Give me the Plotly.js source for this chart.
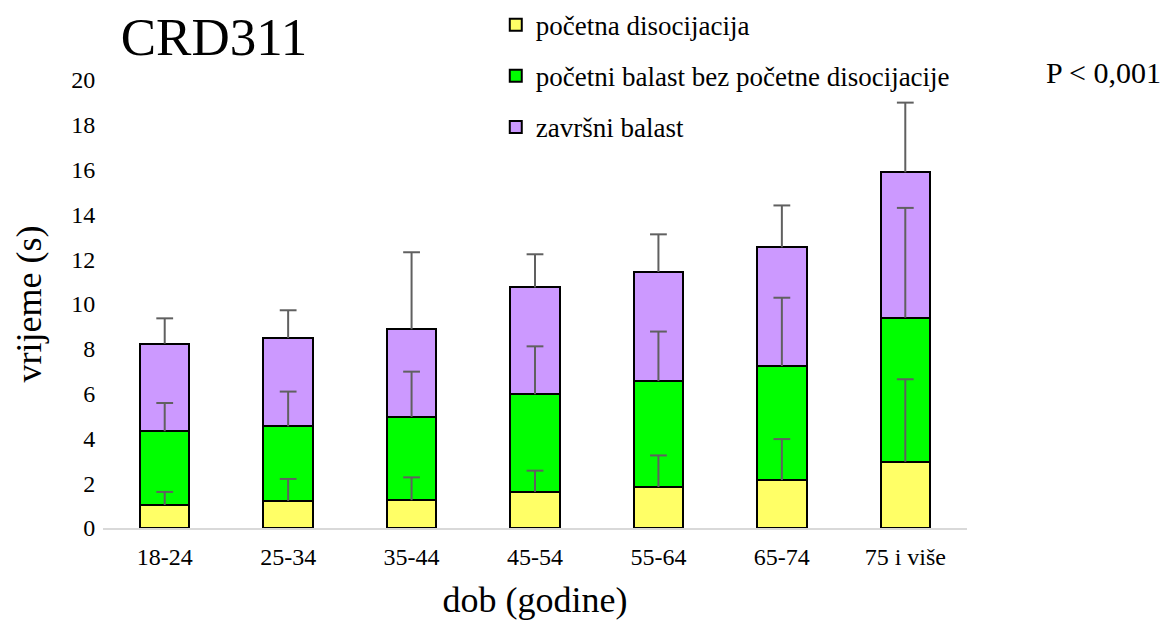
<!DOCTYPE html>
<html>
<head>
<meta charset="utf-8">
<script src="https://cdn.plot.ly/plotly-3.0.1.min.js"></script>
<style>html,body{margin:0;padding:0;background:#fff;}#chart{width:1168px;height:623px;}</style>
</head>
<body>
<div id="chart"></div>
<script>
const categories = ['18-24', '25-34', '35-44', '45-54', '55-64', '65-74', '75 i više'];
const seriesNames = ['početna disocijacija', 'početni balast bez početne disocijacije', 'završni balast'];
const pocetnaDisocijacija = [1.03, 1.21, 1.24, 1.62, 1.83, 2.14, 2.96];
const pocetniBalast = [3.29, 3.33, 3.72, 4.35, 4.73, 5.09, 6.43];
const zavrsniBalast = [3.91, 3.94, 3.91, 4.77, 4.87, 5.30, 6.49];
const errPocetnaDisocijacija = [0.58, 0.98, 1.02, 0.94, 1.41, 1.83, 3.68];
const errPocetniBalast = [1.26, 1.55, 2.02, 2.14, 2.21, 3.05, 4.90];
const errZavrsniBalast = [1.13, 1.24, 3.44, 1.48, 1.68, 1.87, 3.11];

const FONT = '"Liberation Serif", "Times New Roman", serif';
const colors = ['#FFFF66', '#00FF00', '#CC99FF'];
const errColor = '#606060';

const series = [pocetnaDisocijacija, pocetniBalast, zavrsniBalast];
const errs = [errPocetnaDisocijacija, errPocetniBalast, errZavrsniBalast];

const data = [];
series.forEach((vals, i) => {
  data.push({
    type: 'bar', name: seriesNames[i], x: categories, y: vals,
    marker: {color: colors[i], line: {color: '#000', width: 2}},
    legendgroup: 'g' + i, hoverinfo: 'skip'
  });
});
// error whiskers drawn on top of each stacked segment
const cum = categories.map(() => 0);
series.forEach((vals, i) => {
  const tops = vals.map((v, k) => { cum[k] += v; return cum[k]; });
  const tips = tops.map((t, k) => t + errs[i][k]);
  data.push({
    type: 'scatter', mode: 'markers', x: categories, y: tips, showlegend: false,
    legendgroup: 'e' + i, hoverinfo: 'skip',
    marker: {symbol: 'line-ew', size: 12, color: errColor, line: {color: errColor, width: 2}},
    error_y: {type: 'data', symmetric: false, array: categories.map(() => 0),
              arrayminus: errs[i], width: 0, thickness: 2, color: errColor}
  });
});

const layout = {
  width: 1168, height: 623,
  paper_bgcolor: '#fff', plot_bgcolor: '#fff',
  margin: {l: 103, r: 201, t: 80, b: 95, autoexpand: false},
  barmode: 'stack', bargap: 0.6,
  font: {family: FONT, color: '#000'},
  showlegend: true,
  hovermode: false,
  title: {text: 'CRD311', font: {family: FONT, size: 53, color: '#000'},
          x: 214 / 1168, xanchor: 'center', xref: 'container',
          y: 1 - 36 / 623, yanchor: 'middle', yref: 'container'},
  legend: {x: 0.4546, xanchor: 'left', y: 1.177, yanchor: 'top',
           font: {family: FONT, size: 27, color: '#000'},
           tracegroupgap: 13, bgcolor: 'rgba(0,0,0,0)', traceorder: 'grouped'},
  xaxis: {
    type: 'category', showgrid: false, zeroline: false,
    showline: true, linecolor: '#d9d9d9', linewidth: 2,
    ticks: 'outside', ticklen: 6, tickcolor: 'rgba(0,0,0,0)',
    tickfont: {family: FONT, size: 24, color: '#000'},
    title: {text: 'dob (godine)', font: {family: FONT, size: 36, color: '#000'}, standoff: 18}
  },
  yaxis: {
    range: [0, 20], dtick: 2, showgrid: false, zeroline: false, showline: false,
    ticks: 'outside', ticklen: 2, tickcolor: 'rgba(0,0,0,0)',
    tickfont: {family: FONT, size: 24, color: '#000'},
    title: {text: 'vrijeme (s)', font: {family: FONT, size: 36, color: '#000'}, standoff: 18}
  },
  annotations: [{
    text: 'P &lt; 0,001', xref: 'paper', yref: 'paper',
    x: (1103 - 103) / 864, y: 1 + (80 - 72) / 448, xanchor: 'center', yanchor: 'middle',
    showarrow: false, font: {family: FONT, size: 30, color: '#000'}
  }]
};

Plotly.newPlot('chart', data, layout, {displayModeBar: false, staticPlot: true});
</script>
</body>
</html>
